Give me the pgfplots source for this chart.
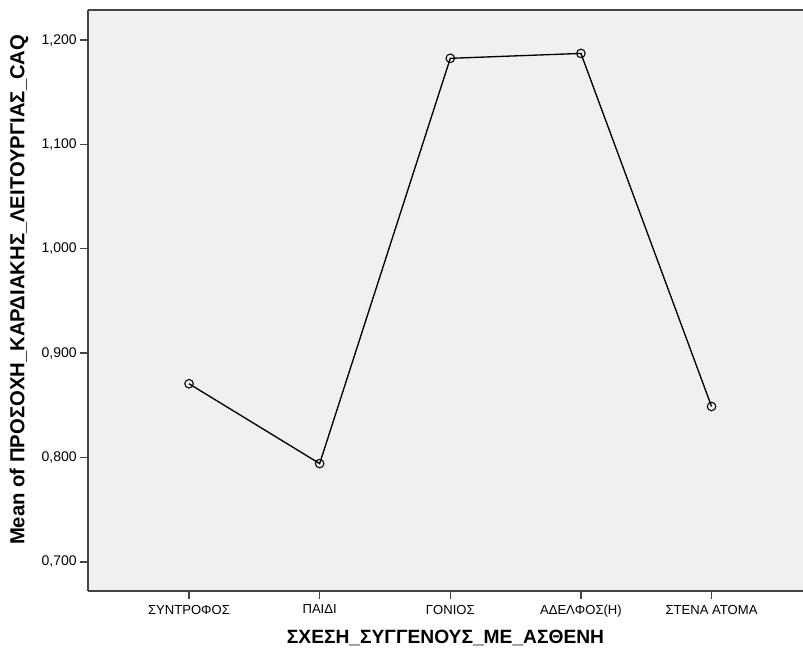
\documentclass[border=0pt]{standalone}
\usepackage{fontspec}
\setmainfont{Liberation Sans}
\usepackage{pgfplots}
\pgfplotsset{compat=1.18}
\definecolor{bgc}{HTML}{F0F0F0}
\definecolor{framec}{HTML}{444444}
\begin{document}
\begin{tikzpicture}
\begin{axis}[
  name=ax,
  scale only axis,
  width=536pt, height=435.5pt,
  xmin=-0.773, xmax=4.70,
  ymin=0.6722, ymax=1.2288,
  axis x line*=bottom,
  axis y line*=left,
  axis line style={framec, line width=1.2pt, -},
  axis background/.style={fill=bgc},
  xtick={0,1,2,3,4},
  xticklabels={ΣΥΝΤΡΟΦΟΣ, ΠΑΙΔΙ, ΓΟΝΙΟΣ, ΑΔΕΛΦΟΣ(Η), ΣΤΕΝΑ ΑΤΟΜΑ},
  ytick={0.7,0.8,0.9,1.0,1.1,1.2},
  tick align=outside,
  major tick length=6pt,
  tick style={framec, line width=1pt},
  x tick label style={font=\fontsize{9.8}{12}\selectfont, yshift=-1pt},
  y tick label style={font=\fontsize{10.5}{12}\selectfont, xshift=1pt},
  /pgf/number format/assume math mode=true,
  /pgf/number format/.cd, fixed, fixed zerofill, precision=3, use comma, 1000 sep={},
  /pgfplots/.cd,
  xlabel={ΣΧΕΣΗ\_ΣΥΓΓΕΝΟΥΣ\_ΜΕ\_ΑΣΘΕΝΗ},
  ylabel={Mean of ΠΡΟΣΟΧΗ\_ΚΑΡΔΙΑΚΗΣ\_ΛΕΙΤΟΥΡΓΙΑΣ\_CAQ},
  xlabel style={font=\bfseries\fontsize{14.4}{16}\selectfont, yshift=-3pt},
  ylabel style={font=\bfseries\fontsize{15.2}{17}\selectfont, yshift=3pt, xshift=8pt},
  clip=false,
]
\addplot[color=black, line width=1pt, mark=o, mark size=3.2pt, mark options={line width=0.8pt}]
coordinates {(0,0.8707) (1,0.7942) (2,1.1825) (3,1.1872) (4,0.8489)};
\draw[framec, line width=1.2pt] (rel axis cs:0,1) -- (rel axis cs:1,1);
\end{axis}
\pgfresetboundingbox
\path ([shift={(-66pt,-49.7pt)}]ax.south west) rectangle ([shift={(0pt,7.5pt)}]ax.north east);
\end{tikzpicture}
\end{document}
